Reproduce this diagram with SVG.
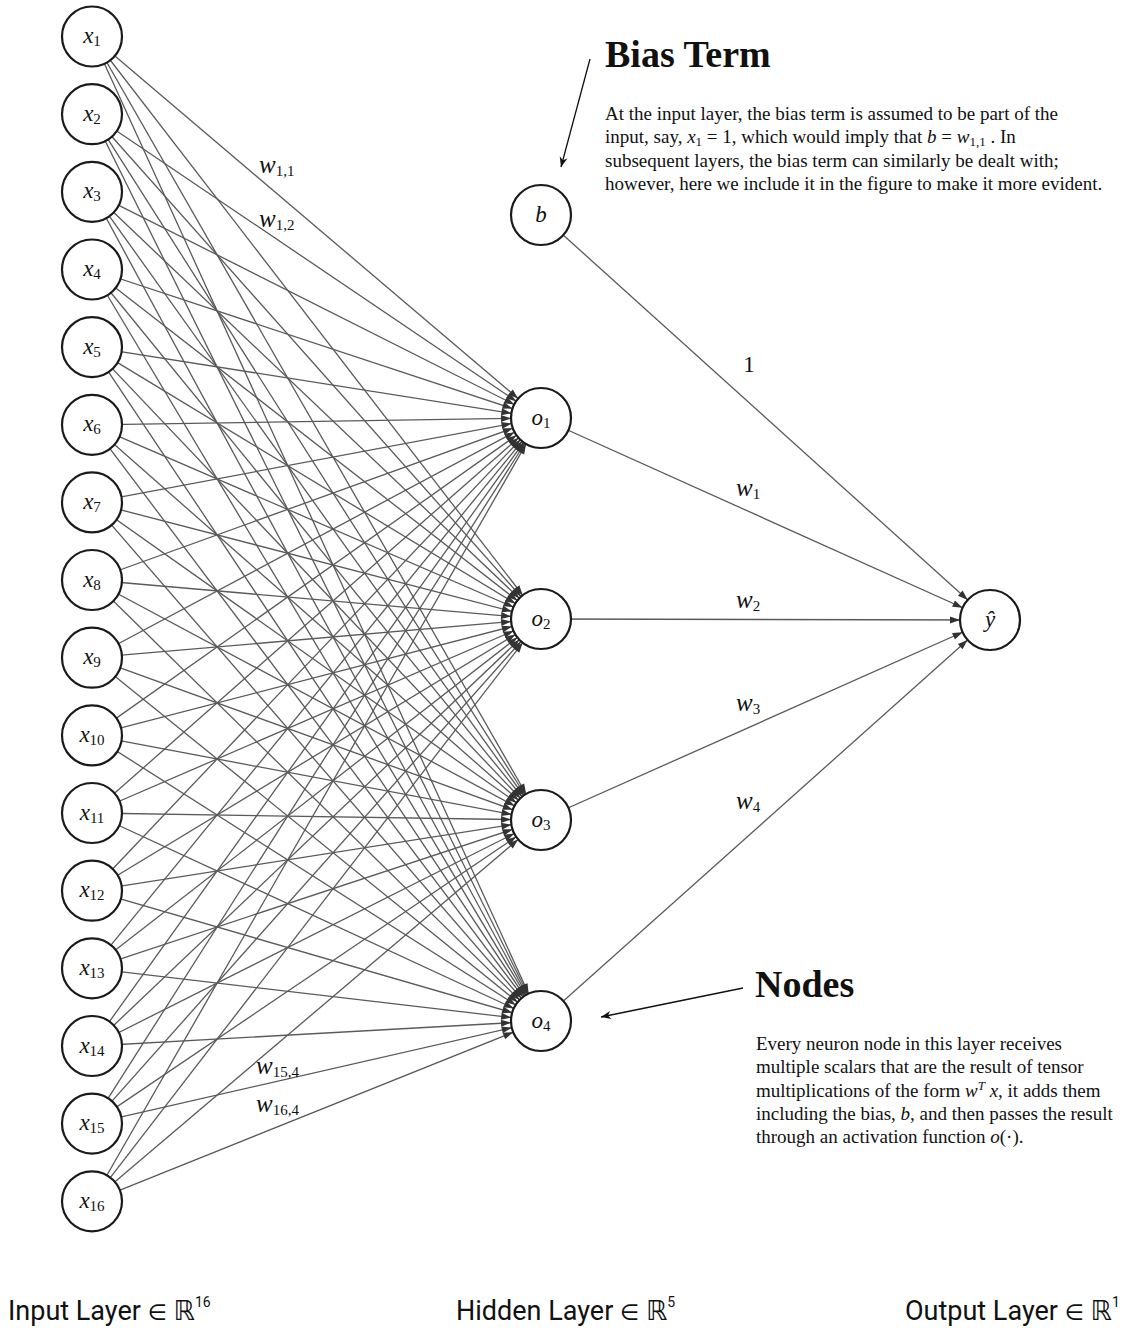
<svg xmlns="http://www.w3.org/2000/svg" width="1129" height="1333" viewBox="0 0 1129 1333">
<style>
.e{stroke:#5a5a5a;stroke-width:1.3;fill:none;marker-end:url(#ah)}
.n{fill:#fff;stroke:#1a1a1a;stroke-width:2.2}
.m{font-family:"Liberation Serif",serif;font-size:23px;fill:#111}
.w{font-size:25px}
.i{font-style:italic}
.s{font-size:15px}
.p{font-family:"Liberation Serif",serif;font-size:19px;fill:#111}
.h{font-family:"Liberation Serif",serif;font-size:38px;font-weight:bold;fill:#111}
.l{font-family:Roboto,"DejaVu Sans",sans-serif;font-size:27px;fill:#111}
</style>
<defs>
<marker id="ah" viewBox="-42 -5 44 10" refX="0" refY="0" markerWidth="44" markerHeight="10" markerUnits="userSpaceOnUse" orient="auto">
<path d="M-30,0 L-40,-3.5 L-40,3.5 Z" fill="#333"/>
</marker>
<marker id="ap" viewBox="-12 -5 13 10" refX="0" refY="0" markerWidth="13" markerHeight="10" markerUnits="userSpaceOnUse" orient="auto">
<path d="M0,0 L-10,-4 L-7,0 L-10,4 Z" fill="#111"/>
</marker>
</defs>
<rect width="1129" height="1333" fill="#fff"/>
<g id="connectors">
<line class="e" x1="92" y1="36.5" x2="541" y2="418"/><line class="e" x1="92" y1="36.5" x2="541" y2="619"/><line class="e" x1="92" y1="36.5" x2="541" y2="820"/><line class="e" x1="92" y1="36.5" x2="541" y2="1021"/>
<line class="e" x1="92" y1="114.2" x2="541" y2="418"/><line class="e" x1="92" y1="114.2" x2="541" y2="619"/><line class="e" x1="92" y1="114.2" x2="541" y2="820"/><line class="e" x1="92" y1="114.2" x2="541" y2="1021"/>
<line class="e" x1="92" y1="191.8" x2="541" y2="418"/><line class="e" x1="92" y1="191.8" x2="541" y2="619"/><line class="e" x1="92" y1="191.8" x2="541" y2="820"/><line class="e" x1="92" y1="191.8" x2="541" y2="1021"/>
<line class="e" x1="92" y1="269.5" x2="541" y2="418"/><line class="e" x1="92" y1="269.5" x2="541" y2="619"/><line class="e" x1="92" y1="269.5" x2="541" y2="820"/><line class="e" x1="92" y1="269.5" x2="541" y2="1021"/>
<line class="e" x1="92" y1="347.1" x2="541" y2="418"/><line class="e" x1="92" y1="347.1" x2="541" y2="619"/><line class="e" x1="92" y1="347.1" x2="541" y2="820"/><line class="e" x1="92" y1="347.1" x2="541" y2="1021"/>
<line class="e" x1="92" y1="424.8" x2="541" y2="418"/><line class="e" x1="92" y1="424.8" x2="541" y2="619"/><line class="e" x1="92" y1="424.8" x2="541" y2="820"/><line class="e" x1="92" y1="424.8" x2="541" y2="1021"/>
<line class="e" x1="92" y1="502.4" x2="541" y2="418"/><line class="e" x1="92" y1="502.4" x2="541" y2="619"/><line class="e" x1="92" y1="502.4" x2="541" y2="820"/><line class="e" x1="92" y1="502.4" x2="541" y2="1021"/>
<line class="e" x1="92" y1="580" x2="541" y2="418"/><line class="e" x1="92" y1="580" x2="541" y2="619"/><line class="e" x1="92" y1="580" x2="541" y2="820"/><line class="e" x1="92" y1="580" x2="541" y2="1021"/>
<line class="e" x1="92" y1="657.7" x2="541" y2="418"/><line class="e" x1="92" y1="657.7" x2="541" y2="619"/><line class="e" x1="92" y1="657.7" x2="541" y2="820"/><line class="e" x1="92" y1="657.7" x2="541" y2="1021"/>
<line class="e" x1="92" y1="735.4" x2="541" y2="418"/><line class="e" x1="92" y1="735.4" x2="541" y2="619"/><line class="e" x1="92" y1="735.4" x2="541" y2="820"/><line class="e" x1="92" y1="735.4" x2="541" y2="1021"/>
<line class="e" x1="92" y1="813" x2="541" y2="418"/><line class="e" x1="92" y1="813" x2="541" y2="619"/><line class="e" x1="92" y1="813" x2="541" y2="820"/><line class="e" x1="92" y1="813" x2="541" y2="1021"/>
<line class="e" x1="92" y1="890.7" x2="541" y2="418"/><line class="e" x1="92" y1="890.7" x2="541" y2="619"/><line class="e" x1="92" y1="890.7" x2="541" y2="820"/><line class="e" x1="92" y1="890.7" x2="541" y2="1021"/>
<line class="e" x1="92" y1="968.3" x2="541" y2="418"/><line class="e" x1="92" y1="968.3" x2="541" y2="619"/><line class="e" x1="92" y1="968.3" x2="541" y2="820"/><line class="e" x1="92" y1="968.3" x2="541" y2="1021"/>
<line class="e" x1="92" y1="1046" x2="541" y2="418"/><line class="e" x1="92" y1="1046" x2="541" y2="619"/><line class="e" x1="92" y1="1046" x2="541" y2="820"/><line class="e" x1="92" y1="1046" x2="541" y2="1021"/>
<line class="e" x1="92" y1="1123.6" x2="541" y2="418"/><line class="e" x1="92" y1="1123.6" x2="541" y2="619"/><line class="e" x1="92" y1="1123.6" x2="541" y2="820"/><line class="e" x1="92" y1="1123.6" x2="541" y2="1021"/>
<line class="e" x1="92" y1="1201.3" x2="541" y2="418"/><line class="e" x1="92" y1="1201.3" x2="541" y2="619"/><line class="e" x1="92" y1="1201.3" x2="541" y2="820"/><line class="e" x1="92" y1="1201.3" x2="541" y2="1021"/>
<line class="e" x1="541" y1="215" x2="990" y2="620"/>
<line class="e" x1="541" y1="418" x2="990" y2="620"/>
<line class="e" x1="541" y1="619" x2="990" y2="620"/>
<line class="e" x1="541" y1="820" x2="990" y2="620"/>
<line class="e" x1="541" y1="1021" x2="990" y2="620"/>
<line x1="590" y1="59" x2="561" y2="167" stroke="#111" stroke-width="1.3" marker-end="url(#ap)"/>
<line x1="743" y1="988" x2="601" y2="1017" stroke="#111" stroke-width="1.3" marker-end="url(#ap)"/>
</g>
<g id="edge-labels" class="m">
<text x="259" y="173"><tspan class="i w">w</tspan><tspan class="s" dy="3">1,1</tspan></text>
<text x="259" y="227"><tspan class="i w">w</tspan><tspan class="s" dy="3">1,2</tspan></text>
<text x="256" y="1074"><tspan class="i w">w</tspan><tspan class="s" dy="3">15,4</tspan></text>
<text x="256" y="1112"><tspan class="i w">w</tspan><tspan class="s" dy="3">16,4</tspan></text>
<text x="749" y="372" text-anchor="middle">1</text>
<text x="736" y="496"><tspan class="i w">w</tspan><tspan class="s" dy="3">1</tspan></text>
<text x="736" y="608"><tspan class="i w">w</tspan><tspan class="s" dy="3">2</tspan></text>
<text x="736" y="711"><tspan class="i w">w</tspan><tspan class="s" dy="3">3</tspan></text>
<text x="736" y="809"><tspan class="i w">w</tspan><tspan class="s" dy="3">4</tspan></text>
</g>
<g id="x1"><circle class="n" cx="92" cy="36.5" r="30"/><text class="m" x="92" y="43" text-anchor="middle"><tspan class="i">x</tspan><tspan class="s" dy="3">1</tspan></text></g>
<g id="x2"><circle class="n" cx="92" cy="114.2" r="30"/><text class="m" x="92" y="120.7" text-anchor="middle"><tspan class="i">x</tspan><tspan class="s" dy="3">2</tspan></text></g>
<g id="x3"><circle class="n" cx="92" cy="191.8" r="30"/><text class="m" x="92" y="198.3" text-anchor="middle"><tspan class="i">x</tspan><tspan class="s" dy="3">3</tspan></text></g>
<g id="x4"><circle class="n" cx="92" cy="269.5" r="30"/><text class="m" x="92" y="276" text-anchor="middle"><tspan class="i">x</tspan><tspan class="s" dy="3">4</tspan></text></g>
<g id="x5"><circle class="n" cx="92" cy="347.1" r="30"/><text class="m" x="92" y="353.6" text-anchor="middle"><tspan class="i">x</tspan><tspan class="s" dy="3">5</tspan></text></g>
<g id="x6"><circle class="n" cx="92" cy="424.8" r="30"/><text class="m" x="92" y="431.3" text-anchor="middle"><tspan class="i">x</tspan><tspan class="s" dy="3">6</tspan></text></g>
<g id="x7"><circle class="n" cx="92" cy="502.4" r="30"/><text class="m" x="92" y="508.9" text-anchor="middle"><tspan class="i">x</tspan><tspan class="s" dy="3">7</tspan></text></g>
<g id="x8"><circle class="n" cx="92" cy="580" r="30"/><text class="m" x="92" y="586.5" text-anchor="middle"><tspan class="i">x</tspan><tspan class="s" dy="3">8</tspan></text></g>
<g id="x9"><circle class="n" cx="92" cy="657.7" r="30"/><text class="m" x="92" y="664.2" text-anchor="middle"><tspan class="i">x</tspan><tspan class="s" dy="3">9</tspan></text></g>
<g id="x10"><circle class="n" cx="92" cy="735.4" r="30"/><text class="m" x="92" y="741.9" text-anchor="middle"><tspan class="i">x</tspan><tspan class="s" dy="3">10</tspan></text></g>
<g id="x11"><circle class="n" cx="92" cy="813" r="30"/><text class="m" x="92" y="819.5" text-anchor="middle"><tspan class="i">x</tspan><tspan class="s" dy="3">11</tspan></text></g>
<g id="x12"><circle class="n" cx="92" cy="890.7" r="30"/><text class="m" x="92" y="897.2" text-anchor="middle"><tspan class="i">x</tspan><tspan class="s" dy="3">12</tspan></text></g>
<g id="x13"><circle class="n" cx="92" cy="968.3" r="30"/><text class="m" x="92" y="974.8" text-anchor="middle"><tspan class="i">x</tspan><tspan class="s" dy="3">13</tspan></text></g>
<g id="x14"><circle class="n" cx="92" cy="1046" r="30"/><text class="m" x="92" y="1052.5" text-anchor="middle"><tspan class="i">x</tspan><tspan class="s" dy="3">14</tspan></text></g>
<g id="x15"><circle class="n" cx="92" cy="1123.6" r="30"/><text class="m" x="92" y="1130.1" text-anchor="middle"><tspan class="i">x</tspan><tspan class="s" dy="3">15</tspan></text></g>
<g id="x16"><circle class="n" cx="92" cy="1201.3" r="30"/><text class="m" x="92" y="1207.8" text-anchor="middle"><tspan class="i">x</tspan><tspan class="s" dy="3">16</tspan></text></g>
<g id="b"><circle class="n" cx="541" cy="215" r="30"/><text class="m i" x="541" y="222" text-anchor="middle">b</text></g>
<g id="o1"><circle class="n" cx="541" cy="418" r="30"/><text class="m" x="541" y="424.5" text-anchor="middle"><tspan class="i">o</tspan><tspan class="s" dy="3">1</tspan></text></g>
<g id="o2"><circle class="n" cx="541" cy="619" r="30"/><text class="m" x="541" y="625.5" text-anchor="middle"><tspan class="i">o</tspan><tspan class="s" dy="3">2</tspan></text></g>
<g id="o3"><circle class="n" cx="541" cy="820" r="30"/><text class="m" x="541" y="826.5" text-anchor="middle"><tspan class="i">o</tspan><tspan class="s" dy="3">3</tspan></text></g>
<g id="o4"><circle class="n" cx="541" cy="1021" r="30"/><text class="m" x="541" y="1027.5" text-anchor="middle"><tspan class="i">o</tspan><tspan class="s" dy="3">4</tspan></text></g>
<g id="yhat"><circle class="n" cx="990" cy="620" r="30"/><text class="m i" x="990" y="627" text-anchor="middle">ŷ</text></g>
<g id="bias-note">
<text class="h" x="605" y="67">Bias Term</text>
<text class="p" x="605" y="120">At the input layer, the bias term is assumed to be part of the</text>
<text class="p" x="605" y="143">input, say, <tspan class="i">x</tspan><tspan font-size="13" dy="3">1</tspan><tspan dy="-3"> = 1, which would imply that </tspan><tspan class="i">b</tspan> = <tspan class="i">w</tspan><tspan font-size="13" dy="3">1,1</tspan><tspan dy="-3"> . In</tspan></text>
<text class="p" x="605" y="166.5">subsequent layers, the bias term can similarly be dealt with;</text>
<text class="p" x="605" y="190">however, here we include it in the figure to make it more evident.</text>
</g>
<g id="nodes-note">
<text class="h" x="755" y="997">Nodes</text>
<text class="p" x="756" y="1050">Every neuron node in this layer receives</text>
<text class="p" x="756" y="1073">multiple scalars that are the result of tensor</text>
<text class="p" x="756" y="1097">multiplications of the form <tspan class="i">w</tspan><tspan class="i" font-size="13" dy="-7">T</tspan><tspan dy="7"> </tspan><tspan class="i">x</tspan>, it adds them</text>
<text class="p" x="756" y="1120">including the bias, <tspan class="i">b</tspan>, and then passes the result</text>
<text class="p" x="756" y="1143">through an activation function <tspan class="i">o</tspan>(·).</text>
</g>
<g id="layer-labels" class="l">
<text x="8" y="1320">Input Layer <tspan font-size="22">∈</tspan> <tspan font-size="27">ℝ</tspan><tspan font-size="14" dy="-13">16</tspan></text>
<text x="456" y="1320">Hidden Layer <tspan font-size="22">∈</tspan> <tspan font-size="27">ℝ</tspan><tspan font-size="14" dy="-13">5</tspan></text>
<text x="905" y="1320">Output Layer <tspan font-size="22">∈</tspan> <tspan font-size="27">ℝ</tspan><tspan font-size="14" dy="-13">1</tspan></text>
</g>
</svg>
